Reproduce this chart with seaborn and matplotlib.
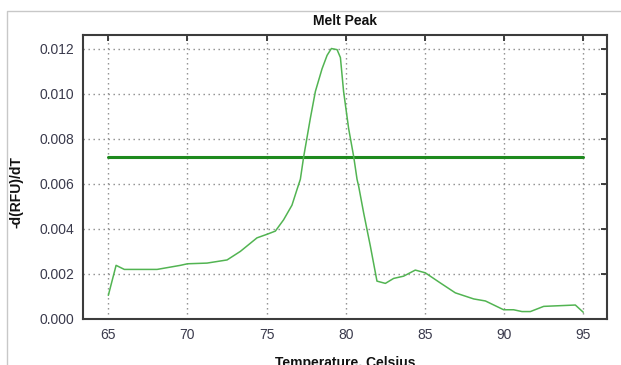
import matplotlib
matplotlib.use("Agg")
import matplotlib.pyplot as plt
import matplotlib.lines as mlines
import seaborn as sns
import pandas as pd

# ---- data ----
temperature = [65.0, 65.49, 66.01, 68.08, 69.55, 70.0, 71.23, 72.5, 73.34, 74.39,
               75.03, 75.55, 76.07, 76.6, 76.92, 77.13, 77.34, 77.76, 78.08, 78.5,
               78.82, 79.09, 79.45, 79.66, 79.86, 80.18, 80.5, 80.71, 80.81, 81.13,
               81.55, 81.97, 82.5, 83.02, 83.65, 84.39, 85.02, 85.97, 86.92, 88.08,
               88.82, 89.97, 90.6, 91.13, 91.66, 92.5, 94.5, 95.0]
melt_peak = [0.00105, 0.00238, 0.00220, 0.00220, 0.00238, 0.00245, 0.00248, 0.00262, 0.00300, 0.00360,
             0.00376, 0.00390, 0.00440, 0.00505, 0.00575, 0.00620, 0.00720, 0.00890, 0.01010, 0.01110,
             0.01170, 0.01200, 0.01195, 0.01160, 0.01010, 0.00845, 0.00720, 0.00620, 0.00590, 0.00470,
             0.00324, 0.00168, 0.00158, 0.00180, 0.00190, 0.00217, 0.00205, 0.00160, 0.00116, 0.00089,
             0.00080, 0.00041, 0.00041, 0.00033, 0.00033, 0.00056, 0.00062, 0.00030]
threshold_x = [65.0, 95.0]
threshold_y = [0.0072, 0.0072]
x_ticks = [65, 70, 75, 80, 85, 90, 95]
y_ticks = [0.000, 0.002, 0.004, 0.006, 0.008, 0.010, 0.012]
y_tick_labels = ["0.000", "0.002", "0.004", "0.006", "0.008", "0.010", "0.012"]

sns.set_theme(style="white")
plt.rcParams['font.family'] = ['Liberation Sans', 'DejaVu Sans']

fig = plt.figure(figsize=(6.21, 3.65), dpi=100)
ax = fig.add_axes([83/621, 46/365, 524/621, 284/365])

df = pd.DataFrame({"T": temperature, "d": melt_peak})
dt = pd.DataFrame({"T": threshold_x, "d": threshold_y})
sns.lineplot(data=dt, x="T", y="d", ax=ax, color="#1e8a1e", linewidth=2.2, zorder=3)
sns.lineplot(data=df, x="T", y="d", ax=ax, color="#52b452", linewidth=1.1, zorder=4)

ax.set_xlim(63.4, 96.5)
ax.set_ylim(0, 0.0126)
ax.set_xticks(x_ticks)
ax.set_yticks(y_ticks)
ax.set_yticklabels(y_tick_labels)

ax.grid(True, color="#8a8a8a", linestyle=(0, (1, 2.6)), linewidth=1.0)
ax.set_axisbelow(True)

for s in ax.spines.values():
    s.set_color("#3c3c3c")
    s.set_linewidth(1.5)
    s.set_visible(True)

ax.tick_params(axis='both', which='major', direction='inout', length=7, width=1.3,
               color="#303030", labelsize=10, labelcolor="#3a3a4c", pad=3,
               top=True, right=True)
fig.canvas.draw()
for t in ax.xaxis.get_major_ticks():
    t.tick2line.set_marker(mlines.TICKDOWN)
    t.tick2line.set_markersize(4)
for t in ax.yaxis.get_major_ticks():
    t.tick2line.set_marker(mlines.TICKLEFT)
    t.tick2line.set_markersize(4)

ax.set_title("Melt Peak", fontsize=10, fontweight="bold", color="#111111", pad=7)
ax.set_xlabel("Temperature, Celsius", fontsize=10, fontweight="bold", color="#111111")
ax.set_ylabel("-d(RFU)/dT", fontsize=10, fontweight="bold", color="#111111")
ax.xaxis.set_label_coords(0.5, -0.132)
ax.yaxis.set_label_coords(-0.114, 0.447)

# light frame around the figure
fig.add_artist(mlines.Line2D([7/621, 7/621, 1.0], [0.0, 1 - 11/365, 1 - 11/365],
                             transform=fig.transFigure, color="#c8c8c8", linewidth=1.0))

fig.savefig("out.png", dpi=100)
